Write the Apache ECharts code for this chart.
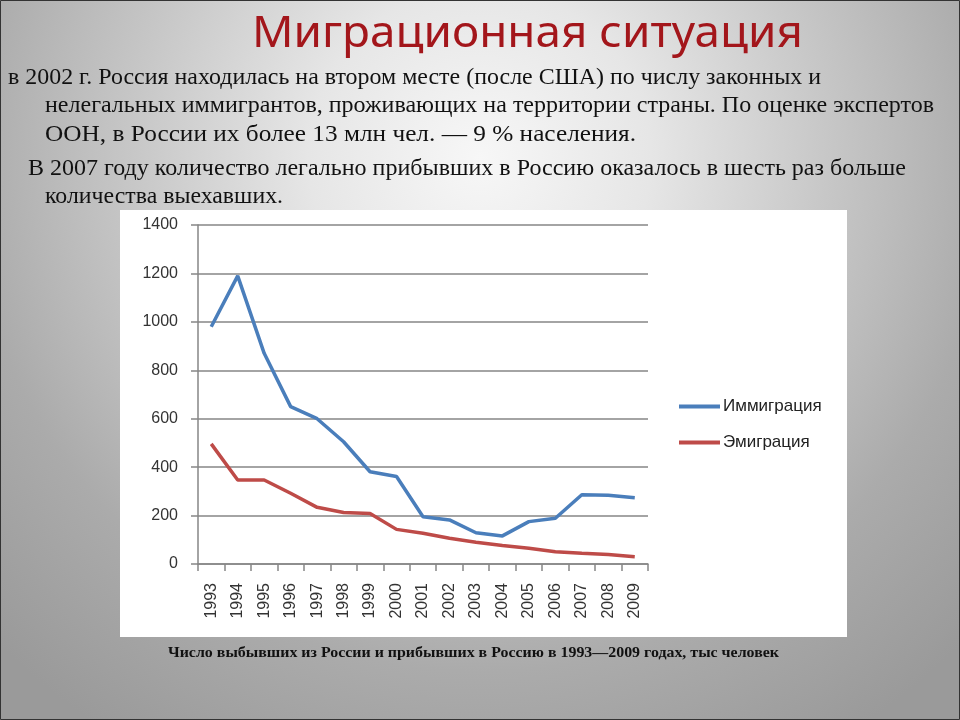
<!DOCTYPE html>
<html><head><meta charset="utf-8">
<script src="https://cdn.jsdelivr.net/npm/echarts@6/dist/echarts.min.js"></script>
<style>html,body{margin:0;padding:0;width:960px;height:720px;overflow:hidden;background:#bbb}#c{width:960px;height:720px;}</style>
</head><body><div id="c"></div><script>
// ---- data ----
const years = ['1993','1994','1995','1996','1997','1998','1999','2000','2001','2002','2003','2004','2005','2006','2007','2008','2009'];
const immigration = [980,1190,870,650,600,505,381,361,195,182,129,116,175,189,286,284,274];
const emigration  = [496,347,347,292,234,213,209,143,127,106,90,76,65,51,44,39,30];
const seriesNames = ['Иммиграция','Эмиграция'];
const yMin = 0, yMax = 1400, yStep = 200;
const titleText = 'Миграционная ситуация';
const bodyLines = [
  'в 2002 г. Россия находилась на втором месте (после США) по числу законных и',
  'нелегальных иммигрантов, проживающих на территории страны. По оценке экспертов',
  'ООН, в России их более 13 млн чел. — 9 % населения.',
  'В 2007 году количество легально прибывших в Россию оказалось в шесть раз больше',
  'количества выехавших.'
];
const captionText = 'Число выбывших из России и прибывших в Россию в 1993—2009 годах, тыс человек';

// ---- layout helpers ----
const ctx = document.createElement('canvas').getContext('2d');
function measure(text, font){ ctx.font = font; return ctx.measureText(text).width; }
function fitText(text, font, left, right, cy, fill){
  const w = measure(text, font);
  return { type:'text', x:left, y:cy, scaleX:(right-left)/w, z:5,
    style:{ text:text, x:0, y:0, font:font, fill:fill, textAlign:'left', textVerticalAlign:'middle', verticalAlign:'middle' } };
}
const bodyFont = '23px "Liberation Serif"';
const bodyGeom = [[8,821,78],[45,934,106],[45,636,135],[28,906,169],[45,283,197]];

const graphics = [
  { type:'rect', z:-20, shape:{x:0.5,y:0.5,width:959,height:719},
    style:{ stroke:'#333', lineWidth:1, fill:{ type:'radial', x:0.5, y:0.22, r:0.95,
      colorStops:[{offset:0,color:'#f7f7f7'},{offset:0.25,color:'#e6e6e6'},{offset:0.5,color:'#c8c8c8'},{offset:0.75,color:'#ababab'},{offset:1,color:'#9a9a9a'}] } } },
  { type:'rect', z:-10, shape:{x:120,y:210,width:727,height:427}, style:{fill:'#ffffff'} },
  fitText(titleText, '43px "Noto Sans"', 252, 803, 35, '#a3161b'),
  fitText(captionText, 'bold 15px "Liberation Serif"', 168, 779, 653, '#111')
];
bodyLines.forEach((t,i)=>{ const g = bodyGeom[i]; graphics.push(fitText(t, bodyFont, g[0], g[1], g[2], '#111')); });

const chart = echarts.init(document.getElementById('c'));
const axisGray = '#868686';
chart.setOption({
  animation:false,
  graphic:{ elements: graphics },
  grid:{ left:198, right:312, top:225, bottom:156, containLabel:false },
  legend:{ orient:'vertical', left:679, top:398, padding:0, itemWidth:41, itemHeight:4, itemGap:19, icon:'rect',
    data:seriesNames, textStyle:{ fontFamily:'Liberation Sans', fontSize:17, lineHeight:17, color:'#222', padding:[0,0,0,-2] } },
  xAxis:{ type:'category', data:years, boundaryGap:true,
    axisLine:{ lineStyle:{ color:axisGray, width:1.5 } },
    axisTick:{ show:true, length:7, lineStyle:{ color:axisGray, width:1.5 } },
    axisLabel:{ rotate:90, interval:0, margin:19, fontFamily:'Liberation Sans', fontSize:16, color:'#333' } },
  yAxis:{ type:'value', min:yMin, max:yMax, interval:yStep,
    axisLine:{ show:true, lineStyle:{ color:axisGray, width:1.5 } },
    axisTick:{ show:true, length:7, lineStyle:{ color:axisGray, width:1.5 } },
    splitLine:{ lineStyle:{ color:axisGray, width:1.5 } },
    axisLabel:{ margin:20, fontFamily:'Liberation Sans', fontSize:16, color:'#333', formatter:function(v){ return String(v); } } },
  series:[
    { name:seriesNames[0], type:'line', data:immigration, symbol:'none', lineStyle:{ width:3.5, color:'#4a7ebb' }, itemStyle:{ color:'#4a7ebb' } },
    { name:seriesNames[1], type:'line', data:emigration, symbol:'none', lineStyle:{ width:3.5, color:'#be4b48' }, itemStyle:{ color:'#be4b48' } }
  ]
});
</script></body></html>
